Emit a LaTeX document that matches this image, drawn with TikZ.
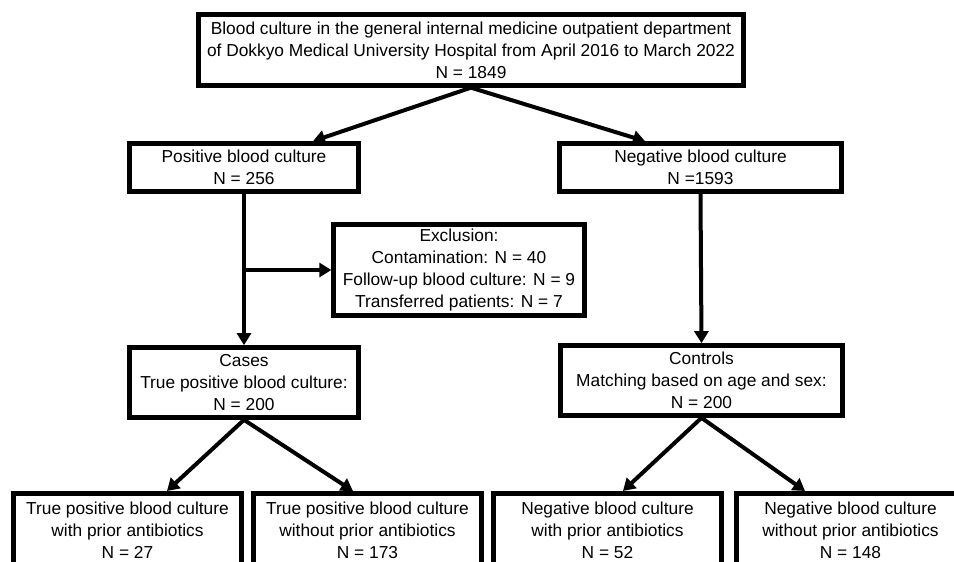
\documentclass[tikz,border=0pt]{standalone}
\usepackage{fontspec}
\setmainfont{Liberation Sans}
\usetikzlibrary{arrows.meta}

\begin{document}
\begin{tikzpicture}[x=0.75pt, y=-0.75pt,
    box/.style={draw, line width=3.5pt, align=center, inner sep=0pt, font=\fontsize{13}{16.5}\selectfont},
    arr/.style={line width=3pt, -{Triangle[length=9pt, width=10.5pt]}}]
    \useasboundingbox (0, 0) rectangle (954, 561);
    \clip (0, 0) rectangle (954, 561);

    \node[box, minimum width=409pt, minimum height=53pt] (all) at (471, 50)
        {Blood culture in the general internal medicine outpatient department\\of Dokkyo Medical University Hospital from April 2016 to March 2022\\N = 1849};
    \node[box, minimum width=172pt, minimum height=36pt] (pos) at (244, 167.5) {Positive blood culture\\N = 256};
    \node[box, minimum width=211.5pt, minimum height=36pt] (neg) at (700.5, 167.5) {Negative blood culture\\N =1593};
    \node[box, minimum width=188pt, minimum height=68pt] (excl) at (459, 270)
        {Exclusion:\\Contamination: N = 40\\Follow-up blood culture: N = 9\\Transferred patients: N = 7};
    \node[box, minimum width=172pt, minimum height=52.5pt] (cases) at (244, 382.5) {Cases\\True positive blood culture:\\N = 200};
    \node[box, minimum width=211.5pt, minimum height=52.5pt] (ctrl) at (701.5, 380.5) {Controls\\Matching based on age and sex:\\N = 200};
    \node[box, minimum width=171pt, minimum height=55pt] (tpwith) at (127.5, 530) {True positive blood culture\\with prior antibiotics\\N = 27};
    \node[box, minimum width=171pt, minimum height=55pt] (tpwithout) at (367.5, 530) {True positive blood culture\\without prior antibiotics\\N = 173};
    \node[box, minimum width=171pt, minimum height=55pt] (ngwith) at (607.5, 530) {Negative blood culture\\with prior antibiotics\\N = 52};
    \node[box, minimum width=171pt, minimum height=55pt] (ngwithout) at (850.5, 530) {Negative blood culture\\without prior antibiotics\\N = 148};

    \draw[arr] (all.south) -- ([xshift=51.75pt]pos.north);
    \draw[arr] (all.south) -- ([xshift=-41.6pt]neg.north);
    \draw[arr] (pos.south) -- (cases.north);
    \draw[arr] (pos.south |- excl.west) -- (excl.west);
    \draw[arr] (neg.south) -- (ctrl.north);
    \draw[arr] (cases.south) -- ([xshift=29.6pt]tpwith.north);
    \draw[arr] (cases.south) -- ([xshift=-10.9pt]tpwithout.north);
    \draw[arr] (ctrl.south) -- ([xshift=11.6pt]ngwith.north);
    \draw[arr] (ctrl.south) -- ([xshift=-34.1pt]ngwithout.north);
\end{tikzpicture}
\end{document}
